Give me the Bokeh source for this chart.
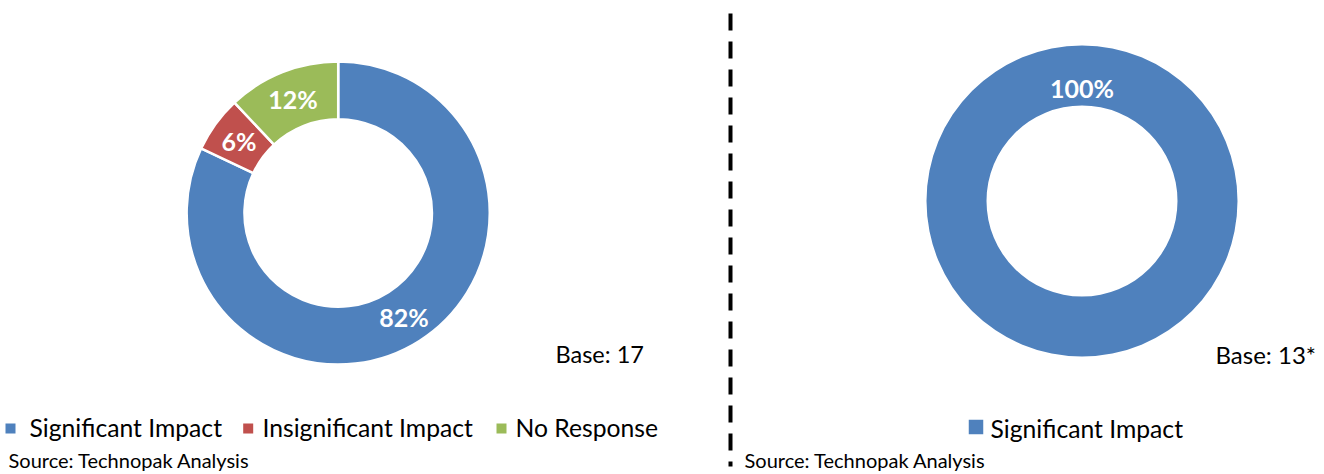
import math
from bokeh.plotting import figure
from bokeh.models import Range1d
from bokeh.embed import file_html
from bokeh.resources import INLINE
from bokeh.core.properties import value

# ---------------- data ----------------
left_categories = ["Significant Impact", "Insignificant Impact", "No Response"]
left_values = [82, 6, 12]
left_colors = ["#4F81BD", "#C0504D", "#9BBB59"]

right_categories = ["Significant Impact"]
right_values = [100]
right_colors = ["#4F81BD"]

left_base = "Base: 17"
right_base = "Base: 13*"
source_text = "Source: Technopak Analysis"

# ---------------- layout ----------------
W, H = 1324, 474
FONT = "Lato"


def px(x):
    return x


def py(y):
    return H - y


p = figure(width=W, height=H, x_range=Range1d(0, W), y_range=Range1d(0, H),
           output_backend="svg", toolbar_location=None, min_border=0)
p.axis.visible = False
p.grid.visible = False
p.outline_line_color = None
p.background_fill_color = "white"
p.border_fill_color = "white"


def donut(cx, cy, r_in, r_out, values, colors, border, label_size, full_label_frac=0.3):
    total = float(sum(values))
    cum = 0.0
    for v, c in zip(values, colors):
        frac = v / total
        start = math.pi / 2 - 2 * math.pi * cum / total
        end = math.pi / 2 - 2 * math.pi * (cum + v) / total
        if frac >= 0.9999:
            p.annulus(x=[cx], y=[cy], inner_radius=r_in, outer_radius=r_out,
                      inner_radius_units="screen", outer_radius_units="screen",
                      fill_color=c, line_color=None)
            lx = cx
            ly = cy + r_in + full_label_frac * (r_out - r_in)
        else:
            p.annular_wedge(x=[cx], y=[cy], inner_radius=r_in - border / 2,
                            outer_radius=r_out + border / 2,
                            inner_radius_units="screen", outer_radius_units="screen",
                            start_angle=start, end_angle=end, direction="clock",
                            fill_color=c, line_color="white", line_width=border)
            mid = (start + end) / 2
            rm = (r_in + r_out) / 2
            lx = cx + rm * math.cos(mid)
            ly = cy + rm * math.sin(mid)
        p.text(x=[lx], y=[ly], text=["%d%%" % round(frac * 100)],
               text_color="white", text_font=value(FONT), text_font_style="bold",
               text_font_size="%dpx" % label_size, text_align="center",
               text_baseline="middle")
        cum += v


# left donut
donut(px(337.7), py(212.5), 95, 150.3, left_values, left_colors, 2.5, 25)
# right donut
donut(px(1081.5), py(200.5), 95.5, 155.5, right_values, right_colors, 0, 25)

# divider
p.line(x=[px(730), px(730)], y=[py(13), py(466)], line_color="black",
       line_width=4, line_dash="17 11")

# legends
left_leg_x = [29, 262, 515]
left_sq_x = [10, 247.7, 501]
for cat, col, tx, sx in zip(left_categories, left_colors, left_leg_x, left_sq_x):
    p.scatter(x=[px(sx)], y=[py(428)], marker="square", size=10,
              fill_color=col, line_color=None)
    p.text(x=[px(tx)], y=[py(427)], text=[cat], text_color="black",
           text_font=value(FONT), text_font_size="24.7px", text_align="left",
           text_baseline="middle")

for cat, col in zip(right_categories, right_colors):
    p.scatter(x=[px(975.5)], y=[py(426.5)], marker="square", size=14.5,
              fill_color=col, line_color=None)
    p.text(x=[px(990)], y=[py(428)], text=[cat], text_color="black",
           text_font=value(FONT), text_font_size="24.7px", text_align="left",
           text_baseline="middle")

# base notes
p.text(x=[px(555)], y=[py(353.5)], text=[left_base], text_color="black",
       text_font=value(FONT), text_font_size="23.5px", text_align="left",
       text_baseline="middle")
p.text(x=[px(1215)], y=[py(353.5)], text=[right_base], text_color="black",
       text_font=value(FONT), text_font_size="24px", text_align="left",
       text_baseline="middle")

# sources
p.text(x=[px(8), px(744)], y=[py(459.5), py(459.5)], text=[source_text, source_text],
       text_color="black", text_font=value(FONT), text_font_size="20px",
       text_align="left", text_baseline="middle")

open("out.html", "w").write(file_html(p, INLINE))
